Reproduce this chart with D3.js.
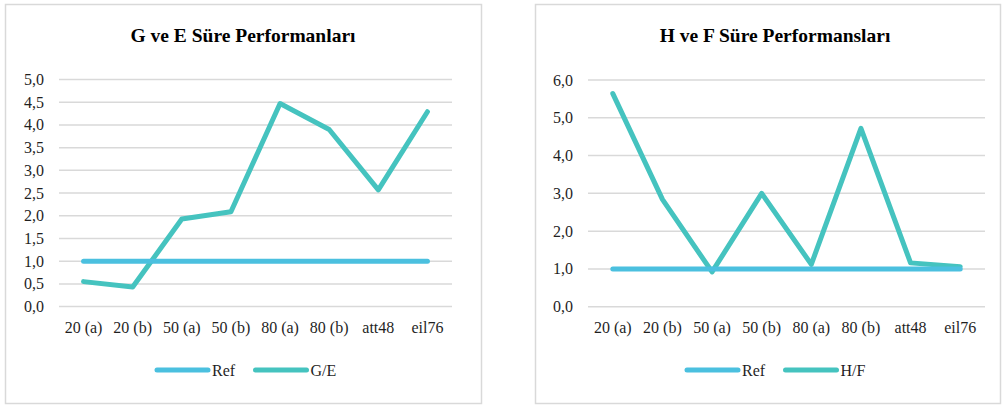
<!DOCTYPE html>
<html>
<head>
<meta charset="utf-8">
<script src="https://cdn.jsdelivr.net/npm/d3@7"></script>
<style>
  body { margin: 0; background: #fff; }
  svg { display: block; }
  svg text { font-family: 'Liberation Serif', serif; }
</style>
</head>
<body>
<svg id="chart" width="1004" height="405"></svg>
<script>
const categories = ['20 (a)', '20 (b)', '50 (a)', '50 (b)', '80 (a)', '80 (b)', 'att48', 'eil76'];
const refValues = [1, 1, 1, 1, 1, 1, 1, 1];
const geValues = [0.55, 0.43, 1.93, 2.09, 4.47, 3.90, 2.57, 4.29];
const hfValues = [5.64, 2.84, 0.92, 3.00, 1.12, 4.72, 1.16, 1.06];
const geTicks = [0, 0.5, 1, 1.5, 2, 2.5, 3, 3.5, 4, 4.5, 5];
const hfTicks = [0, 1, 2, 3, 4, 5, 6];

const refColor = '#4bc0df';
const seriesColor = '#45c3bf';
const textColor = '#1f1f1f';
const fmt = v => d3.format('.1f')(v).replace('.', ',');

const svg = d3.select('#chart');

function drawChart(cfg) {
  const g = svg.append('g');
  // outer frame
  g.append('rect')
    .attr('x', cfg.box[0] + 0.5).attr('y', cfg.box[1] + 0.5)
    .attr('width', cfg.box[2]).attr('height', cfg.box[3])
    .attr('fill', '#fff').attr('stroke', '#d9d9d9').attr('stroke-width', 1.5);

  g.append('text')
    .attr('x', cfg.titleX).attr('y', 42)
    .attr('text-anchor', 'middle')
    .style('font-size', '19.5px').style('font-weight', 'bold').attr('fill', '#000')
    .text(cfg.title);

  const x = d3.scaleBand().domain(categories).range(cfg.xr);
  const y = d3.scaleLinear().domain([0, cfg.max]).range(cfg.yr);

  // grid
  g.selectAll('line.grid').data(cfg.ticks).enter().append('line')
    .attr('x1', cfg.xr[0]).attr('x2', cfg.xr[1])
    .attr('y1', d => y(d)).attr('y2', d => y(d))
    .attr('stroke', '#d9d9d9').attr('stroke-width', 1.5);

  // y tick labels
  g.selectAll('text.ylab').data(cfg.ticks).enter().append('text')
    .attr('class', 'ylab')
    .attr('x', cfg.xr[0] - 15).attr('y', d => y(d) + 5.5)
    .attr('text-anchor', 'end')
    .style('font-size', '16px')
    .attr('fill', textColor)
    .text(fmt);

  const xAxis = g.append('g')
    .attr('transform', `translate(0,${cfg.yr[0]})`)
    .call(d3.axisBottom(x).tickSize(0));
  xAxis.select('.domain').remove();
  xAxis.selectAll('.tick text')
    .style('font-size', '16px')
    .style('font-family', "'Liberation Serif', serif")
    .attr('fill', textColor)
    .attr('y', 26.5).attr('dy', 0);

  const line = d3.line()
    .x((d, i) => x(categories[i]) + x.bandwidth() / 2)
    .y(d => y(d));

  g.append('path').datum(cfg.values)
    .attr('d', line).attr('fill', 'none')
    .attr('stroke', seriesColor).attr('stroke-width', 5)
    .attr('stroke-linejoin', 'round').attr('stroke-linecap', 'round');
  g.append('path').datum(refValues)
    .attr('d', line).attr('fill', 'none')
    .attr('stroke', refColor).attr('stroke-width', 5)
    .attr('stroke-linecap', 'round');

  // legend
  const leg = g.append('g').attr('transform', `translate(${cfg.legX},370)`);
  [['Ref', refColor, 0], [cfg.name, seriesColor, 98.5]].forEach(([label, color, dx]) => {
    leg.append('line')
      .attr('x1', dx + 2).attr('x2', dx + 53).attr('y1', 0).attr('y2', 0)
      .attr('stroke', color).attr('stroke-width', 5).attr('stroke-linecap', 'round');
    leg.append('text')
      .attr('x', dx + 57).attr('y', 5.5)
      .style('font-size', '16px').attr('fill', textColor)
      .text(label);
  });
}

drawChart({
  title: 'G ve E Süre Performanları', name: 'G/E', values: geValues,
  ticks: geTicks, max: 5, titleX: 243,
  box: [5, 4, 476, 399], xr: [59, 452], yr: [306.6, 79.5], legX: 155
});
drawChart({
  title: 'H ve F Süre Performansları', name: 'H/F', values: hfValues,
  ticks: hfTicks, max: 6, titleX: 775,
  box: [535, 4, 465, 399], xr: [588, 985], yr: [306.7, 80], legX: 685
});
</script>
</body>
</html>
